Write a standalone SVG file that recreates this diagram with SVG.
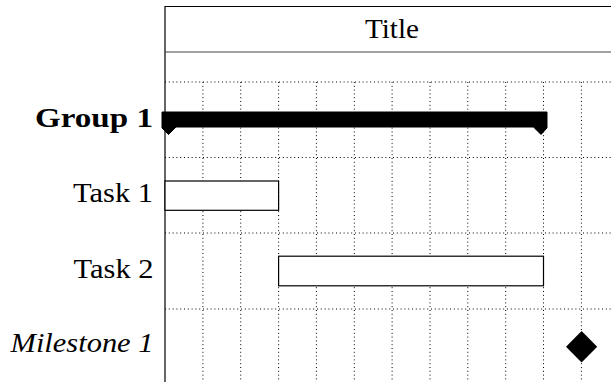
<svg xmlns="http://www.w3.org/2000/svg" width="611" height="382" viewBox="0 0 611 382">
<style>
.lbl{font-family:'Liberation Serif','DejaVu Serif','Times New Roman',serif;font-size:27.5px;fill:#000;text-anchor:end}
.grid{stroke:#000;stroke-width:1;stroke-dasharray:1 2.8;fill:none}
.bar{fill:#fff;stroke:#000;stroke-width:1.2}
</style>
<rect width="611" height="382" fill="#fff"/>
<g id="grid">
<path class="grid" d="M165 82H611M165 157.5H611M165 233H611M165 309H611"/>
<path class="grid" d="M202.9 82V382M240.7 82V382M278.6 82V382M316.4 82V382M354.3 82V382M392.1 82V382M430 82V382M467.8 82V382M505.7 82V382M543.5 82V382M581.4 82V382"/>
</g>
<g id="frame">
<path d="M165 382V6.5H620" fill="none" stroke="#000" stroke-width="1.2"/>
<path d="M165 52H620" fill="none" stroke="#444" stroke-width="1.2"/>
</g>
<g id="title"><text class="lbl" font-family="Liberation Serif, serif" x="392" y="38.3" style="text-anchor:middle" textLength="54" lengthAdjust="spacingAndGlyphs">Title</text></g>
<g id="group1">
<text class="lbl" font-family="Liberation Serif, serif" x="153" y="126.5" font-weight="bold" textLength="118" lengthAdjust="spacingAndGlyphs">Group 1</text>
<path d="M162 112H547V128L541 134.5L533.5 127H176L168.5 134.5L162 128Z" fill="#000" stroke="#000" stroke-width="1" stroke-linejoin="round"/>
</g>
<g id="task1">
<text class="lbl" font-family="Liberation Serif, serif" x="153" y="201.9" textLength="80" lengthAdjust="spacingAndGlyphs">Task 1</text>
<rect class="bar" x="165" y="181" width="113.6" height="29.3"/>
</g>
<g id="task2">
<text class="lbl" font-family="Liberation Serif, serif" x="153.5" y="278.4" textLength="80" lengthAdjust="spacingAndGlyphs">Task 2</text>
<rect class="bar" x="278.6" y="256.2" width="264.9" height="29.6"/>
</g>
<g id="milestone1">
<text class="lbl" font-family="Liberation Serif, serif" x="153.5" y="352.4" font-style="italic" textLength="143" lengthAdjust="spacingAndGlyphs">Milestone 1</text>
<path d="M581.6 331L597.2 346.7L581.6 362.4L566 346.7Z" fill="#000"/>
</g>
</svg>
